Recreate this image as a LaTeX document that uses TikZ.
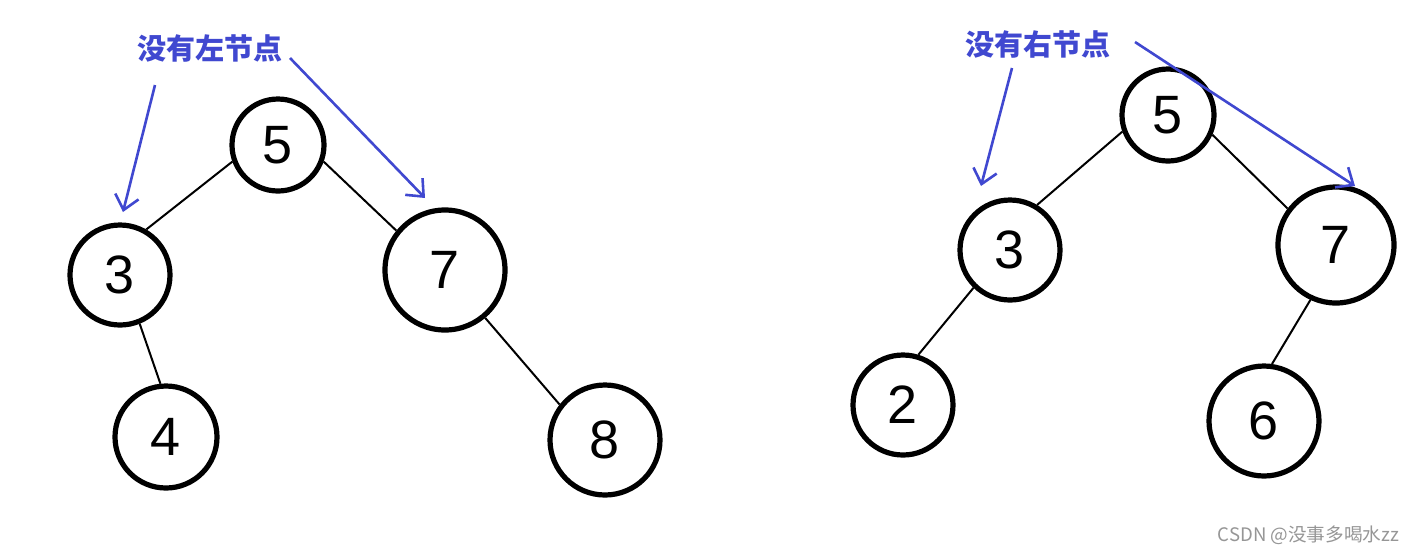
\documentclass[tikz,border=0pt]{standalone}
\usepackage{fontspec}
\setmainfont{Liberation Sans}
\newfontfamily\cjk{Noto Sans CJK SC}
\usetikzlibrary{arrows.meta}
\definecolor{penblue}{RGB}{64,72,208}
\definecolor{wmgray}{RGB}{150,150,150}
\begin{document}
\begin{tikzpicture}[x=0.5pt,y=-0.5pt,
  tnode/.style={circle,draw=black,line width=2.6pt,inner sep=0pt,font=\fontsize{27}{27}\selectfont},
  small/.style={tnode,minimum size=46pt},
  mid/.style={tnode,minimum size=50pt},
  big/.style={tnode,minimum size=58pt},
  edge/.style={draw=black,line width=1pt},
  note/.style={text=penblue,font=\cjk\bfseries\fontsize{14.5}{14.5}\selectfont},
  pointer/.style={draw=penblue,line width=1.3pt,-{Straight Barb[length=7pt,width=12pt]}}]
\useasboundingbox (0,0) rectangle (1420,554);
\fill[white] (0,0) rectangle (1420,554);
% left tree
\node[small] (l5) at (278,145) {5};
\node[mid] (l3) at (120,275) {3};
\node[big,minimum size=60pt] (l7) at (445,270) {7};
\node[mid,minimum size=51pt] (l4) at (166,437) {4};
\node[big,minimum size=55pt] (l8) at (605,440) {8};
\draw[edge] (l5.200) -- (l3.60);
\draw[edge] (l5.-20) -- (l7.141);
\draw[edge] (l3.-68) -- (l4.96);
\draw[edge] (l7.-50) -- (l8.142);
% right tree
\node[small] (r5) at (1168,115) {5};
\node[mid] (r3) at (1010,250) {3};
\node[big] (r7) at (1336,245) {7};
\node[mid] (r2) at (903,405) {2};
\node[big,minimum size=55pt] (r6) at (1264,421) {6};
\draw[edge] (r5.200) -- (r3.59);
\draw[edge] (r5.-24) -- (r7.143);
\draw[edge] (r3.226) -- (r2.73);
\draw[edge] (r7.245) -- (r6.82);
% notes
\node[note] (nl) at (210,48) {没有左节点};
\node[note] (nr) at (1038,44) {没有右节点};
\coordinate (al1) at (155,85);
\coordinate (al2) at (123,212);
\coordinate (ar1) at (290,58);
\coordinate (ar2) at (425,198);
\coordinate (bl1) at (1012,68);
\coordinate (bl2) at (981,186);
\coordinate (br1) at (1135,42);
\coordinate (br2) at (1355,186);
\draw[pointer] (al1) -- (al2);
\draw[pointer] (ar1) -- (ar2);
\draw[pointer] (bl1) -- (bl2);
\draw[pointer] (br1) -- (br2);
% watermark
\node[anchor=east,text=wmgray,font=\cjk\fontsize{9.3}{9.3}\selectfont] (wm) at (1406,535) {CSDN @没事多喝水zz};
\end{tikzpicture}
\end{document}
